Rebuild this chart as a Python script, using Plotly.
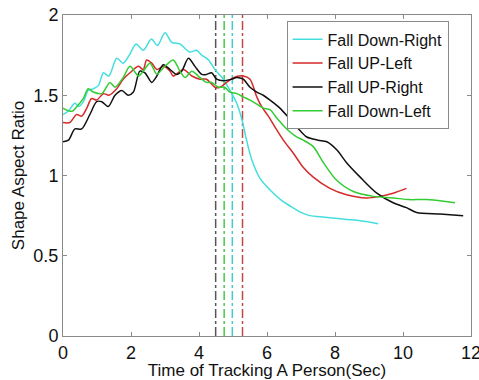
import plotly.graph_objects as go

# ---- data ----
series_names = ["Fall Down-Right", "Fall UP-Left", "Fall UP-Right", "Fall Down-Left"]
series_colors = ["#45dede", "#d42a2a", "#111111", "#33cc33"]

cyan_x = [0, 0.15, 0.35, 0.47, 0.6, 0.74, 0.89, 1.04, 1.19, 1.35, 1.58, 1.77, 1.95, 2.15, 2.36, 2.6, 2.78, 3.0, 3.2, 3.44,
          3.72, 3.93, 4.08, 4.28, 4.47, 4.72, 4.91, 5.11, 5.26, 5.4, 5.55, 5.8, 6.09, 6.4, 6.68, 7.0, 7.26, 7.7, 8.15, 8.7, 9.27]
cyan_y = [1.38, 1.40, 1.45, 1.43, 1.46, 1.53, 1.54, 1.56, 1.64, 1.62, 1.73, 1.70, 1.75, 1.82, 1.78, 1.85, 1.81, 1.89, 1.83, 1.82,
          1.77, 1.78, 1.75, 1.72, 1.66, 1.60, 1.53, 1.45, 1.35, 1.22, 1.10, 0.98, 0.91, 0.85, 0.81, 0.77, 0.75, 0.74, 0.73, 0.72, 0.70]

red_x = [0, 0.2, 0.4, 0.55, 0.7, 0.84, 0.99, 1.19, 1.35, 1.58, 1.77, 1.97, 2.22, 2.36, 2.46, 2.61, 2.76, 2.95, 3.15, 3.24,
         3.54, 3.79, 4.03, 4.22, 4.47, 4.62, 4.81, 5.01, 5.3, 5.5, 5.7, 5.84, 6.04, 6.24, 6.48, 6.77, 7.07, 7.36, 7.85, 8.34,
         8.93, 9.32, 9.71, 10.1]
red_y = [1.33, 1.33, 1.38, 1.37, 1.42, 1.48, 1.47, 1.51, 1.50, 1.54, 1.60, 1.64, 1.68, 1.66, 1.72, 1.70, 1.66, 1.68, 1.65, 1.62,
         1.66, 1.62, 1.60, 1.60, 1.55, 1.55, 1.58, 1.61, 1.62, 1.60, 1.49, 1.43, 1.37, 1.30, 1.22, 1.14, 1.05, 0.99, 0.92, 0.88,
         0.86, 0.87, 0.89, 0.92]

black_x = [0, 0.16, 0.35, 0.55, 0.79, 0.99, 1.14, 1.33, 1.53, 1.73, 1.92, 2.07, 2.26, 2.41, 2.61, 2.76, 2.95, 3.15, 3.34, 3.49,
           3.69, 3.88, 4.08, 4.22, 4.37, 4.52, 4.72, 4.96, 5.11, 5.3, 5.5, 5.7, 5.89, 6.09, 6.38, 6.68, 6.97, 7.17, 7.5, 7.76,
           8.05, 8.34, 8.74, 9.23, 9.71, 10.1, 10.4, 11.09, 11.77]
black_y = [1.21, 1.22, 1.29, 1.29, 1.38, 1.46, 1.46, 1.43, 1.50, 1.53, 1.50, 1.52, 1.65, 1.64, 1.58, 1.62, 1.69, 1.66, 1.63, 1.65,
           1.73, 1.68, 1.63, 1.63, 1.64, 1.60, 1.59, 1.60, 1.61, 1.60, 1.55, 1.52, 1.50, 1.47, 1.42, 1.35, 1.28, 1.24, 1.22, 1.21,
           1.16, 1.08, 0.99, 0.89, 0.83, 0.80, 0.77, 0.76, 0.75]

green_x = [0, 0.26, 0.45, 0.6, 0.74, 0.89, 1.14, 1.38, 1.53, 1.77, 1.97, 2.22, 2.36, 2.56, 2.76, 2.95, 3.24, 3.44, 3.59, 3.79,
           4.03, 4.22, 4.37, 4.57, 4.75, 4.91, 5.11, 5.3, 5.5, 5.74, 5.89, 6.09, 6.28, 6.58, 6.87, 7.07, 7.36, 7.66, 8.05, 8.54,
           9.13, 9.71, 10.16, 10.7, 11.19, 11.53]
green_y = [1.42, 1.40, 1.44, 1.48, 1.54, 1.52, 1.51, 1.58, 1.55, 1.61, 1.68, 1.62, 1.65, 1.70, 1.63, 1.67, 1.72, 1.65, 1.61, 1.65,
           1.61, 1.58, 1.58, 1.55, 1.55, 1.52, 1.51, 1.49, 1.47, 1.44, 1.42, 1.41, 1.36, 1.29, 1.24, 1.22, 1.18, 1.08, 0.97, 0.90,
           0.87, 0.86, 0.85, 0.85, 0.84, 0.83]

# fall-detection instants (vertical dash-dot markers)
marker_x = [4.49, 4.74, 4.98, 5.28]
marker_colors = ["#555555", "#44cc44", "#44cccc", "#c04848"]

x_ticks = [0, 2, 4, 6, 8, 10, 12]
y_ticks = [0, 0.5, 1, 1.5, 2]
y_tick_labels = ["0", "0.5", "1", "1.5", "2"]

# ---- figure ----
fig = go.Figure()

for xv, col in zip(marker_x, marker_colors):
    fig.add_trace(go.Scatter(x=[xv, xv], y=[0, 2], mode="lines", showlegend=False,
                             line=dict(color=col, width=1.5, dash="dashdot"), hoverinfo="skip"))

for name, col, xs, ys in zip(series_names, series_colors,
                             [cyan_x, red_x, black_x, green_x],
                             [cyan_y, red_y, black_y, green_y]):
    fig.add_trace(go.Scatter(x=xs, y=ys, mode="lines", name=name,
                             line=dict(color=col, width=1.5, shape="spline", smoothing=0.8)))

axis_common = dict(showgrid=False, zeroline=False, showline=True, mirror="ticks",
                   linecolor="#8a8a8a", linewidth=1, ticks="inside", ticklen=4,
                   tickcolor="#8a8a8a", tickfont=dict(size=18, color="#111"),
                   ticklabeloverflow="allow", automargin=False)

fig.update_layout(
    width=479, height=380,
    margin=dict(l=63, r=8, t=15, b=44),
    paper_bgcolor="white", plot_bgcolor="white",
    font=dict(family="Liberation Sans, Arial, sans-serif", color="#111"),
    xaxis=dict(range=[0, 12], tickvals=x_ticks,
               title=dict(text="Time of Tracking A Person(Sec)", font=dict(size=17), standoff=2),
               **axis_common),
    yaxis=dict(range=[0, 2], tickvals=y_ticks, ticktext=y_tick_labels,
               title=dict(text="Shape Aspect Ratio", font=dict(size=17), standoff=4),
               **axis_common),
    legend=dict(x=0.548, y=0.98, xanchor="left", yanchor="top",
                bgcolor="white", bordercolor="#8a8a8a", borderwidth=1,
                font=dict(size=16, color="#111"), tracegroupgap=0),
    showlegend=True,
)

fig.write_html("out.html", config={"displayModeBar": False},
               post_script="document.body.style.margin='0';document.body.style.overflow='hidden';")
